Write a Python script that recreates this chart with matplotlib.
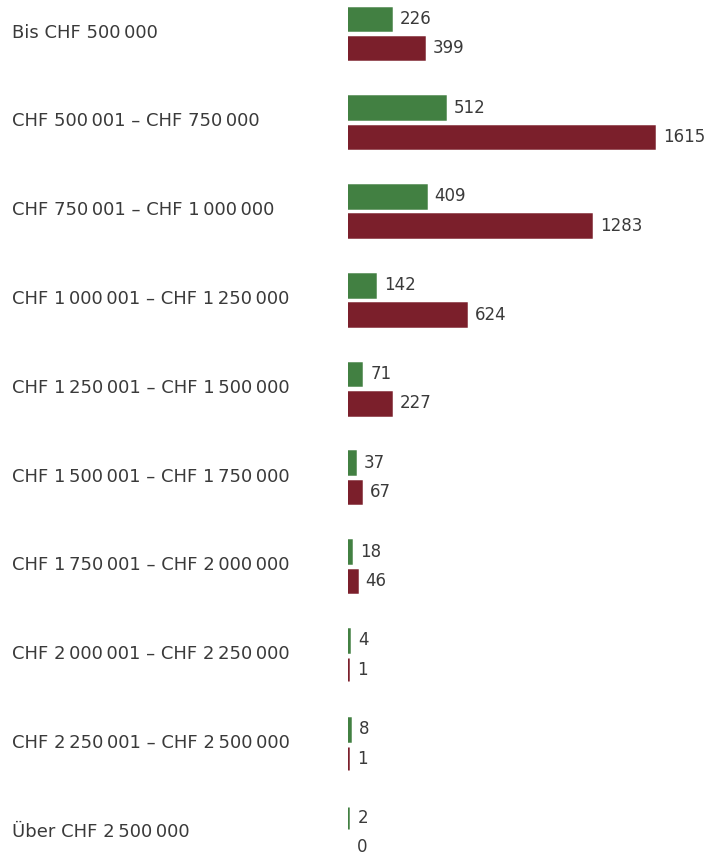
import matplotlib.pyplot as plt
import numpy as np
from matplotlib.transforms import blended_transform_factory

# data
categories = [
    "Bis CHF 500\u202f000",
    "CHF 500\u202f001 \u2013 CHF 750\u202f000",
    "CHF 750\u202f001 \u2013 CHF 1\u202f000\u202f000",
    "CHF 1\u202f000\u202f001 \u2013 CHF 1\u202f250\u202f000",
    "CHF 1\u202f250\u202f001 \u2013 CHF 1\u202f500\u202f000",
    "CHF 1\u202f500\u202f001 \u2013 CHF 1\u202f750\u202f000",
    "CHF 1\u202f750\u202f001 \u2013 CHF 2\u202f000\u202f000",
    "CHF 2\u202f000\u202f001 \u2013 CHF 2\u202f250\u202f000",
    "CHF 2\u202f250\u202f001 \u2013 CHF 2\u202f500\u202f000",
    "\u00dcber CHF 2\u202f500\u202f000",
]
green_values = [226, 512, 409, 142, 71, 37, 18, 4, 8, 2]
red_values = [399, 1615, 1283, 624, 227, 67, 46, 1, 1, 0]

GREEN = "#428042"
RED = "#7b1f2b"
TEXT = "#3a3a3a"

plt.rcParams['font.family'] = ['DejaVu Sans']

fig = plt.figure(figsize=(7.06, 8.57), dpi=100)
ax = fig.add_axes([348 / 706, 0, 1 - 348 / 706, 1])

y = np.arange(len(categories))
off = 0.165
h = 0.255

for vals, sign, col in [(green_values, -1, GREEN), (red_values, 1, RED)]:
    ypos = y + sign * off
    ax.barh(ypos, vals, height=h, color=col, edgecolor=col,
            linewidth=[1.8 if v > 0 else 0 for v in vals])
    for yy, v in zip(ypos, vals):
        ax.annotate(str(v), xy=(v, yy), xytext=(6.5, 0), textcoords="offset points",
                    va="center", ha="left", fontsize=12, color=TEXT)

# category labels, left aligned at the figure edge
trans = blended_transform_factory(fig.transFigure, ax.transData)
for yy, lab in zip(y, categories):
    ax.text(12 / 706, yy - 0.01, lab, transform=trans, ha="left", va="center",
            fontsize=13, color=TEXT)

ax.set_xlim(0, 1889)
ax.set_ylim(9.274, -0.377)
ax.axis("off")

fig.savefig("out.png", dpi=100, facecolor="white")
